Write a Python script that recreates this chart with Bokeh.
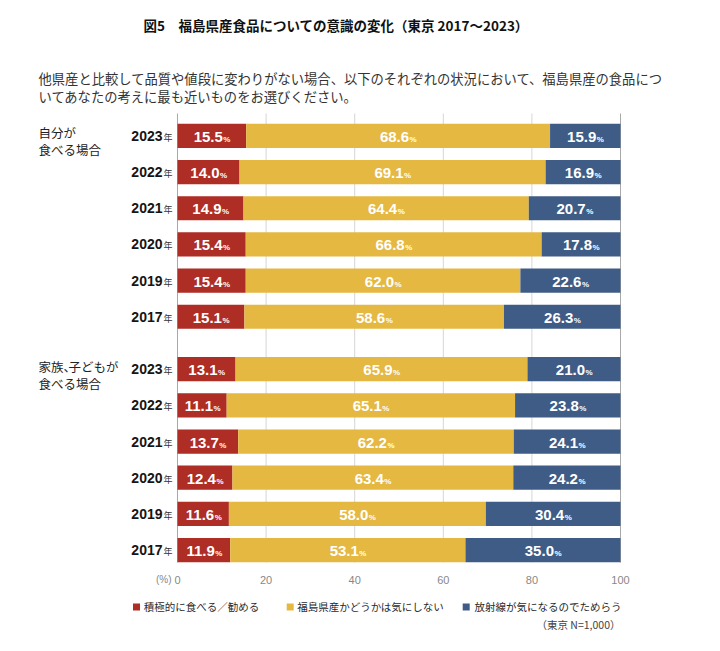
import numpy as np
from bokeh.plotting import figure
from bokeh.models import ColumnDataSource, Range1d
from bokeh.core.properties import value
from bokeh.embed import file_html
from bokeh.resources import INLINE

# ---------------- data ----------------
title_text = "図5　福島県産食品についての意識の変化（東京 2017～2023）"
question_lines = [
    "他県産と比較して品質や値段に変わりがない場合、以下のそれぞれの状況において、福島県産の食品につ",
    "いてあなたの考えに最も近いものをお選びください。",
]
# each label line may be split in pieces (to mimic the narrow "、")
group_labels = [[["自分が"], ["食べる場合"]], [["家族、", "子どもが"], ["食べる場合"]]]
years = ["2023", "2022", "2021", "2020", "2019", "2017"]
year_suffix = "年"
series_names = ["積極的に食べる／勧める", "福島県産かどうかは気にしない", "放射線が気になるのでためらう"]

self_positive = [15.5, 14.0, 14.9, 15.4, 15.4, 15.1]
self_neutral = [68.6, 69.1, 64.4, 66.8, 62.0, 58.6]
self_negative = [15.9, 16.9, 20.7, 17.8, 22.6, 26.3]

family_positive = [13.1, 11.1, 13.7, 12.4, 11.6, 11.9]
family_neutral = [65.9, 65.1, 62.2, 63.4, 58.0, 53.1]
family_negative = [21.0, 23.8, 24.1, 24.2, 30.4, 35.0]

x_ticks = [0, 20, 40, 60, 80, 100]
unit_label = "(%)"
pct_sign = "%"
note_text = "（東京 N=1,000）"

# ---------------- styles / layout ----------------
colors = ["#AE2D24", "#E5B842", "#3E5C86"]
W, H = 720, 651
FL, FR, FT, FB = 177, 620, 113, 562      # pixel box of the bar area
GAP = 0.45
BAR_H = 0.67
PAD_TOP, PAD_BOT = 0.62, 0.345
JP = "Noto Sans CJK JP"
LAT = "Liberation Sans"
GL_SIZE = 12.5

n = len(years)
series = [
    [self_positive, self_neutral, self_negative],
    [family_positive, family_neutral, family_negative],
]
ypos = [g * (n + GAP) + i for g in range(2) for i in range(n)]
y_last = ypos[-1]
y_bot, y_top = y_last + PAD_BOT, -PAD_TOP
PXU = (FR - FL) / 100.0
PYU = (FB - FT) / (y_bot - y_top)


def xd(px):
    return (px - FL) / PXU


def yd(py):
    return y_top + (py - FT) / PYU


def dy(pix):
    return pix / PYU


p = figure(width=W, height=H, output_backend="svg", toolbar_location=None,
           x_range=Range1d(xd(0), xd(W)), y_range=Range1d(yd(H), yd(0)),
           x_axis_location=None, y_axis_location=None, min_border=0)
p.outline_line_color = None
p.background_fill_color = "white"
p.border_fill_color = "white"
p.xgrid.visible = False
p.ygrid.visible = False

# grid lines (from the x tick values)
grid_colors = ["#a9a9a9" if t in (x_ticks[0], x_ticks[-1]) else "#d6d6d6" for t in x_ticks]
p.segment(x0=x_ticks, x1=x_ticks, y0=[y_top] * len(x_ticks), y1=[y_bot] * len(x_ticks),
          line_color=grid_colors, line_width=1)
# tick labels
p.text(x=x_ticks, y=[y_bot + dy(17)] * len(x_ticks), text=[str(t) for t in x_ticks],
       text_align="center", text_baseline="middle", text_font=value(LAT),
       text_font_size="11px", text_color="#888888")
p.text(x=[xd(171)], y=[y_bot + dy(17)], text=[unit_label], text_align="right",
       text_baseline="middle", text_font=value(LAT), text_font_size="10px",
       text_color="#888888")

# bars + value labels
for k in range(3):
    vals = [v for g in range(2) for v in series[g][k]]
    lefts = [sum(series[g][j][i] for j in range(k)) for g in range(2) for i in range(n)]
    rights = [l + v for l, v in zip(lefts, vals)]
    centers = [(l + r) / 2 for l, r in zip(lefts, rights)]
    src = ColumnDataSource(dict(y=ypos, left=lefts, right=rights, c=centers,
                                ym=[y + dy(1.0) for y in ypos],
                                yp=[y + dy(3.5) for y in ypos],
                                t=["%.1f" % v for v in vals],
                                s=[pct_sign] * len(vals)))
    p.hbar(y="y", left="left", right="right", height=BAR_H, fill_color=colors[k],
           line_color=None, source=src)
    p.text(x="c", y="ym", text="t", source=src, text_align="right",
           text_baseline="middle", x_offset=11, text_color="white",
           text_font=value(LAT), text_font_style="bold", text_font_size="15px")
    p.text(x="c", y="yp", text="s", source=src, text_align="left",
           text_baseline="middle", x_offset=11.5, text_color="white",
           text_font=value(LAT), text_font_style="bold", text_font_size="8px")

# year labels
p.text(x=[xd(162)] * (2 * n), y=[y + dy(0.0) for y in ypos], text=years * 2,
       text_align="right", text_baseline="middle", text_font=value(LAT),
       text_font_style="bold", text_font_size="14px", text_color="#151515")
p.text(x=[xd(163)] * (2 * n), y=[y + dy(1.5) for y in ypos], text=[year_suffix] * (2 * n),
       text_align="left", text_baseline="middle", text_font=value(JP),
       text_font_size="9px", text_color="#333333")

# group labels
for g in range(2):
    y0 = ypos[g * n]
    for li, pieces in enumerate(group_labels[g]):
        xpix = 38.0
        for piece in pieces:
            p.text(x=[xd(xpix)], y=[y0 + dy(-3 + 17 * li)], text=[piece],
                   text_align="left", text_baseline="middle", text_font=value(JP),
                   text_font_size="%.1fpx" % GL_SIZE, text_color="#222222")
            # advance: full-width glyphs, trailing "、" drawn narrow
            full = len(piece) - (1 if piece.endswith("、") else 0)
            xpix += full * GL_SIZE + (5.0 if piece.endswith("、") else 0)

# title and question
p.text(x=[xd(143)], y=[yd(24)], text=[title_text], text_align="left",
       text_baseline="middle", text_font=value(JP), text_font_style="bold",
       text_font_size="13.5px", text_color="#111111")
p.text(x=[xd(38)] * 2, y=[yd(78), yd(95.5)], text=question_lines, text_align="left",
       text_baseline="middle", text_font=value(JP), text_font_size="13.3px",
       text_color="#333333")

# legend
leg_sq = [136, 289.7, 465.7]
leg_tx = [143.3, 296.7, 474]
p.scatter(x=[xd(v) for v in leg_sq], y=[yd(606.5)] * 3, marker="square", size=7,
          fill_color=colors, line_color=None)
p.text(x=[xd(v) for v in leg_tx], y=[yd(606)] * 3, text=series_names,
       text_align="left", text_baseline="middle", text_font=value(JP),
       text_font_size="10.5px", text_color="#2a2a2a")
p.text(x=[xd(620)], y=[yd(624)], text=[note_text], text_align="right",
       text_baseline="middle", text_font=value(JP), text_font_size="10.5px",
       text_color="#444444")

open("out.html", "w").write(file_html(p, INLINE))
